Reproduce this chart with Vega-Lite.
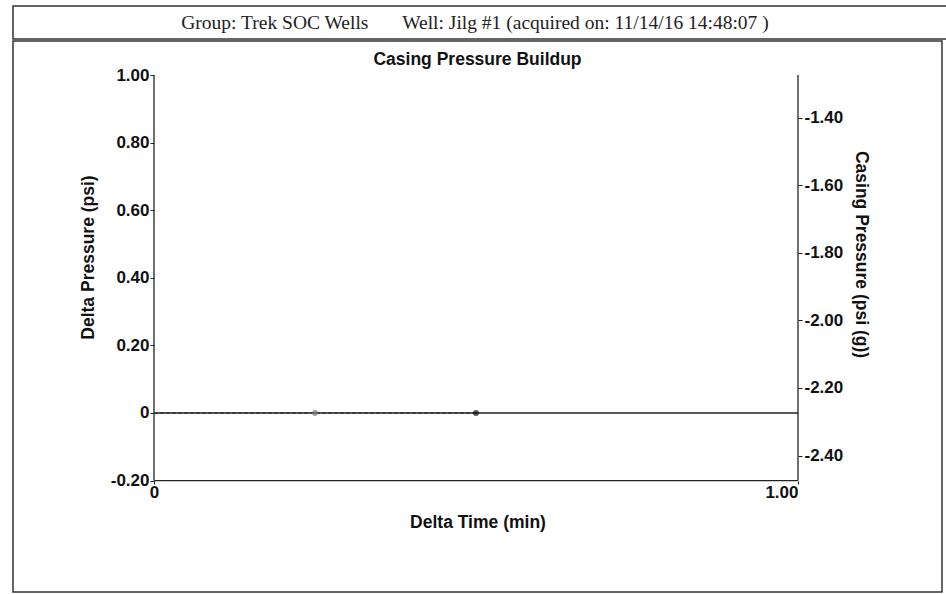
{
  "$schema": "https://vega.github.io/schema/vega-lite/v6.json",
  "padding": {"left": 12, "top": 5, "right": 0, "bottom": 5},
  "background": "white",
  "spacing": 0,
  "config": {
    "view": {"stroke": "#333", "strokeWidth": 1.5},
    "font": "Liberation Sans"
  },
  "datasets": {
    "header": [
      {"label": "Group: Trek SOC Wells\u00a0\u00a0\u00a0\u00a0\u00a0\u00a0 Well: Jilg #1 (acquired on: 11/14/16 14:48:07 )"}
    ],
    "axislines": [
      {"t": 0, "t2": 0, "y": -0.2, "y2": 1.0},
      {"t": 0, "t2": 1, "y": -0.2, "y2": -0.2},
      {"t": 1, "t2": 1, "y": -0.2, "y2": 1.0},
      {"t": 0, "t2": 1, "y": 0, "y2": 0}
    ],
    "series": [
      {"t": 0, "dp": 0, "cp": -2.274, "marker": "none"},
      {"t": 0.25, "dp": 0, "cp": -2.274, "marker": "open"},
      {"t": 0.5, "dp": 0, "cp": -2.274, "marker": "filled"}
    ]
  },
  "vconcat": [
    {
      "width": 934,
      "height": 33,
      "view": {"stroke": "#333", "strokeWidth": 1.5, "fill": "white"},
      "data": {"name": "header"},
      "mark": {"type": "text", "font": "Liberation Serif", "fontSize": 19.5, "color": "#222", "dx": -5, "dy": 0},
      "encoding": {"text": {"field": "label"}}
    },
    {
      "width": 929,
      "height": 551,
      "title": {
        "text": "Casing Pressure Buildup",
        "anchor": "middle",
        "frame": "group",
        "offset": -27,
        "fontSize": 17.5,
        "fontWeight": "bold",
        "font": "Liberation Sans",
        "color": "#111"
      },
      "encoding": {
        "x": {
          "field": "t",
          "type": "quantitative",
          "scale": {"domain": [-0.2189, 1.2236], "nice": false, "zero": false},
          "axis": {
            "orient": "bottom",
            "offset": -111,
            "values": [0, 1],
            "labelExpr": "datum.value == 0 ? '0' : format(datum.value, '.2f')",
            "labelAlign": {"condition": {"test": "datum.value == 1", "value": "right"}, "value": "center"},
            "labelDx": {"condition": {"test": "datum.value == 1", "value": 4}, "value": 0},
            "domain": false,
            "grid": false,
            "ticks": true,
            "tickSize": 3,
            "tickColor": "#222",
            "labelPadding": 0,
            "labelFont": "Liberation Sans",
            "labelFontSize": 17,
            "labelFontWeight": "bold",
            "labelColor": "#111",
            "title": "Delta Time (min)",
            "titleFont": "Liberation Sans",
            "titleFontSize": 17.5,
            "titleFontWeight": "bold",
            "titleColor": "#111",
            "titlePadding": 13
          }
        }
      },
      "layer": [
        {
          "data": {"name": "axislines"},
          "mark": {"type": "rule", "color": "#222", "strokeWidth": 1.3},
          "encoding": {
            "x2": {"field": "t2"},
            "y": {
              "field": "y",
              "type": "quantitative",
              "scale": {"domain": [-0.5296, 1.1006], "nice": false, "zero": false},
              "axis": {
                "orient": "left",
                "offset": -141,
                "values": [-0.2, 0, 0.2, 0.4, 0.6, 0.8, 1.0],
                "labelExpr": "datum.value == 0 ? '0' : replace(format(datum.value, '.2f'), '\u2212', '-')",
                "domain": false,
                "grid": false,
                "tickSize": 4,
                "tickColor": "#222",
                "labelPadding": 1,
                "labelFont": "Liberation Sans",
                "labelFontSize": 17,
                "labelFontWeight": "bold",
                "labelColor": "#111",
                "title": "Delta Pressure (psi)",
                "titleFont": "Liberation Sans",
                "titleFontSize": 17.5,
                "titleFontWeight": "bold",
                "titleColor": "#111",
                "titleY": 216,
                "titlePadding": 13
              }
            },
            "y2": {"field": "y2"}
          }
        },
        {
          "data": {"name": "series"},
          "mark": {"type": "line", "color": "#333", "strokeWidth": 1.5, "strokeDash": [4, 2]},
          "encoding": {
            "y": {
              "field": "cp",
              "type": "quantitative",
              "scale": {"domain": [-2.8036, -1.1734], "nice": false, "zero": false},
              "axis": {
                "orient": "right",
                "offset": -144,
                "values": [-2.4, -2.2, -2.0, -1.8, -1.6, -1.4],
                "labelExpr": "replace(format(datum.value, '.2f'), '\u2212', '-')",
                "domain": false,
                "grid": false,
                "tickSize": 4,
                "tickColor": "#222",
                "labelPadding": 2,
                "labelFont": "Liberation Sans",
                "labelFontSize": 17,
                "labelFontWeight": "bold",
                "labelColor": "#111",
                "title": "Casing Pressure (psi (g))",
                "titleFont": "Liberation Sans",
                "titleFontSize": 17.5,
                "titleFontWeight": "bold",
                "titleColor": "#111",
                "titleY": 213,
                "titlePadding": 9
              }
            }
          }
        },
        {
          "data": {"name": "series"},
          "transform": [{"filter": "datum.marker != 'none'"}],
          "mark": {"type": "point", "filled": true, "size": 36},
          "encoding": {
            "y": {
              "field": "dp",
              "type": "quantitative",
              "scale": {"domain": [-0.5296, 1.1006], "nice": false, "zero": false},
              "axis": null
            },
            "color": {
              "field": "marker",
              "type": "nominal",
              "scale": {"domain": ["open", "filled"], "range": ["#777777", "#111111"]},
              "legend": null
            }
          }
        }
      ],
      "resolve": {"scale": {"y": "independent"}}
    }
  ]
}
